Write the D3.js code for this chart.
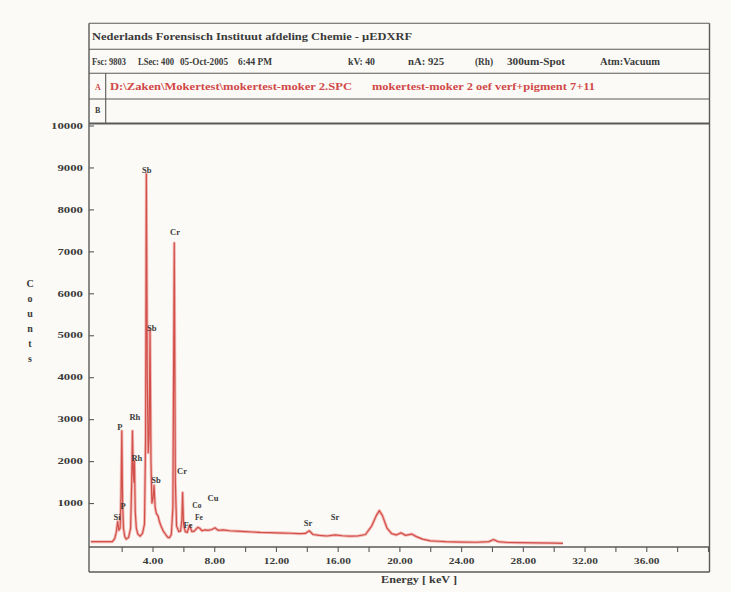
<!DOCTYPE html>
<html>
<head>
<meta charset="utf-8">
<script src="https://cdn.jsdelivr.net/npm/d3@7"></script>
<style>
  html, body { margin: 0; padding: 0; background: #fbfaf6; }
  svg { display: block; }
  text { font-family: "Liberation Serif", "DejaVu Serif", serif; font-weight: bold; fill: #3a3a3a; }
</style>
</head>
<body>
<svg id="chart" width="731" height="592"></svg>
<script>
// ---------------- data ----------------
const titleText = "Nederlands Forensisch Instituut afdeling Chemie - µEDXRF";
const infoFields = ["Fsc: 9803", "LSec: 400", "05-Oct-2005", "6:44 PM", "kV: 40", "nA: 925", "(Rh)", "300um-Spot", "Atm:Vacuum"];
const fileFields = ["D:\\Zaken\\Mokertest\\mokertest-moker 2.SPC", "mokertest-moker 2 oef verf+pigment 7+11"];
const rowKeys = ["A", "B"];

const yTicks = [1000, 2000, 3000, 4000, 5000, 6000, 7000, 8000, 9000, 10000];
const xTicks = [2, 4, 6, 8, 10, 12, 14, 16, 18, 20, 22, 24, 26, 28, 30, 32, 34, 36, 38, 40];
const xLabelTicks = [4, 8, 12, 16, 20, 24, 28, 32, 36];
const yTitle = "Counts";
const xTitle = "Energy [ keV ]";

// spectrum: energy (keV) and counts
const energy = [0.0, 1.40, 1.55, 1.65, 1.74, 1.82, 1.90, 1.96, 2.01, 2.06, 2.12, 2.20, 2.30, 2.45, 2.58, 2.65, 2.70, 2.75, 2.80, 2.83, 2.88, 2.95, 3.05, 3.20, 3.35, 3.48, 3.55, 3.60, 3.66, 3.72, 3.78, 3.84, 3.90, 3.96, 4.03, 4.10, 4.17, 4.25, 4.35, 4.45, 4.55, 4.70, 4.85, 5.00, 5.10, 5.22, 5.32, 5.41, 5.48, 5.56, 5.70, 5.82, 5.90, 5.95, 6.01, 6.12, 6.25, 6.40, 6.55, 6.70, 6.93, 7.06, 7.20, 7.40, 7.60, 7.85, 8.05, 8.25, 8.60, 9.00, 9.50, 10.0, 10.5, 11.0, 11.5, 12.0, 12.5, 13.0, 13.5, 13.9, 14.16, 14.4, 14.8, 15.3, 15.84, 16.3, 16.8, 17.3, 17.8, 18.2, 18.5, 18.7, 18.9, 19.2, 19.5, 19.8, 20.1, 20.4, 20.8, 21.1, 21.5, 22.0, 22.5, 23.0, 24.0, 25.0, 25.8, 26.1, 26.4, 27.0, 28.0, 29.0, 30.0, 30.6];
const counts = [80, 80, 150, 300, 560, 350, 400, 1200, 2720, 1000, 400, 200, 140, 180, 400, 1500, 2720, 1700, 1500, 2000, 800, 400, 260, 210, 280, 500, 2500, 8850, 4000, 2200, 2600, 5150, 2000, 1000, 1100, 1420, 900, 750, 700, 560, 450, 330, 250, 180, 175, 250, 900, 7200, 1500, 450, 320, 330, 600, 1250, 500, 320, 300, 470, 320, 330, 420, 400, 340, 360, 350, 370, 410, 350, 360, 340, 330, 320, 310, 300, 295, 290, 285, 280, 270, 275, 340, 250, 230, 215, 240, 220, 210, 215, 250, 450, 700, 820, 700, 400, 270, 240, 290, 230, 260, 200, 140, 100, 90, 80, 70, 65, 80, 130, 80, 60, 55, 50, 45, 40];

// peak labels: element, energy (keV), counts at label
const peakNames  = ["Sb", "Cr", "Sb", "P", "Rh", "Rh", "Sb", "Cr", "Si", "P", "Fe", "Co", "Fe", "Cu", "Sr", "Sr"];
const peakEnergy = [3.62, 5.46, 3.95, 1.89, 2.86, 2.99, 4.23, 5.91, 1.70, 2.09, 6.30, 6.88, 7.01, 7.92, 14.08, 15.83];
const peakCounts = [8940, 7460, 5170, 2810, 3050, 2070, 1550, 1760, 670, 930, 480, 950, 660, 1120, 520, 670];

// ---------------- drawing ----------------
const svg = d3.select("#chart");
const frameColor = "#5a5a5a";
const left = 89, right = 709.5;

const x = d3.scaleLinear().domain([0, 40]).range([90.8, 708]);
const y = d3.scaleLinear().domain([0, 10000]).range([545, 125.5]);

// header table
const hdrLines = [23.3, 49.3, 73.3, 99, 123.5];
hdrLines.forEach(v => svg.append("line").attr("x1", left).attr("x2", right).attr("y1", v).attr("y2", v)
  .attr("stroke", frameColor).attr("stroke-width", v === 123.5 ? 1.8 : 1.1));
svg.append("line").attr("x1", 105.7).attr("x2", 105.7).attr("y1", 73.3).attr("y2", 123.5).attr("stroke", frameColor).attr("stroke-width", 1.1);

svg.append("text").attr("x", 92).attr("y", 40).attr("font-size", 10.5)
  .attr("textLength", 320).attr("lengthAdjust", "spacingAndGlyphs").text(titleText);

const infoX = [92, 138, 180, 238, 348, 408, 475, 507, 600];
const infoW = [34, 36, 48, 34, 27, 36, 18, 58, 60];
svg.selectAll("text.info").data(infoFields).join("text").attr("class", "info")
  .attr("x", (d, i) => infoX[i]).attr("y", 65).attr("font-size", 10)
  .attr("textLength", (d, i) => infoW[i]).attr("lengthAdjust", "spacingAndGlyphs").text(d => d);

svg.selectAll("text.key").data(rowKeys).join("text").attr("class", "key")
  .attr("x", 95).attr("y", (d, i) => i === 0 ? 90 : 113).attr("font-size", 8)
  .style("fill", (d, i) => i === 0 ? "#d04848" : "#3a3a3a").text(d => d);

const fileX = [110, 372], fileW = [242, 223];
svg.selectAll("text.file").data(fileFields).join("text").attr("class", "file")
  .attr("x", (d, i) => fileX[i]).attr("y", 90).attr("font-size", 9.5)
  .attr("textLength", (d, i) => fileW[i]).attr("lengthAdjust", "spacingAndGlyphs")
  .style("fill", "#d04848").text(d => d);

// plot frame
svg.append("line").attr("x1", left).attr("x2", left).attr("y1", 23.3).attr("y2", 572).attr("stroke", frameColor).attr("stroke-width", 1.4);
svg.append("line").attr("x1", right).attr("x2", right).attr("y1", 23.3).attr("y2", 572).attr("stroke", frameColor).attr("stroke-width", 1.4);
svg.append("line").attr("x1", left).attr("x2", right).attr("y1", 572).attr("y2", 572).attr("stroke", frameColor).attr("stroke-width", 1.4);

// y axis
const yAxis = svg.append("g").attr("transform", `translate(${left},0)`)
  .call(d3.axisLeft(y).tickValues(yTicks).tickSize(-5).tickPadding(6).tickFormat(d3.format("d")));
yAxis.select(".domain").remove();
yAxis.selectAll(".tick line").attr("stroke", frameColor).attr("stroke-width", 1.1);
yAxis.selectAll(".tick text").attr("font-size", 8.5).attr("font-family", null)
  .attr("textLength", d => String(d).length * 6.4).attr("lengthAdjust", "spacingAndGlyphs");

// x axis
svg.append("line").attr("x1", left).attr("x2", right).attr("y1", 547).attr("y2", 547).attr("stroke", frameColor).attr("stroke-width", 1.3);
const xAxis = svg.append("g").attr("transform", "translate(0,547)")
  .call(d3.axisBottom(x).tickValues(xTicks).tickSize(5).tickPadding(6)
    .tickFormat(d => xLabelTicks.includes(d) ? d.toFixed(2) : ""));
xAxis.select(".domain").remove();
xAxis.selectAll(".tick line").attr("stroke", frameColor).attr("stroke-width", 1.1);
xAxis.selectAll(".tick text").attr("font-size", 9).attr("font-family", null)
  .attr("textLength", d => xLabelTicks.includes(d) ? d.toFixed(2).length * 5.1 : 0)
  .attr("lengthAdjust", "spacingAndGlyphs");

// axis titles
svg.append("text").attr("x", 419).attr("y", 583).attr("text-anchor", "middle").attr("font-size", 9.5)
  .attr("textLength", 76).attr("lengthAdjust", "spacingAndGlyphs").text(xTitle);
svg.selectAll("text.ytitle").data(yTitle.split("")).join("text").attr("class", "ytitle")
  .attr("x", 30).attr("y", (d, i) => 287 + i * 15).attr("text-anchor", "middle").attr("font-size", 10).text(d => d);

// spectrum
const pts = energy.map((e, i) => [e, counts[i]]);
const line = d3.line().x(d => x(d[0])).y(d => y(d[1]));
svg.append("path").datum(pts).attr("d", line).attr("fill", "none")
  .attr("stroke", "#f2b8b4").attr("stroke-width", 3).attr("stroke-linejoin", "round");
svg.append("path").datum(pts).attr("d", line).attr("fill", "none")
  .attr("stroke", "#d2504a").attr("stroke-width", 1.2).attr("stroke-linejoin", "round");

// peak labels
svg.selectAll("text.peak").data(peakNames).join("text").attr("class", "peak")
  .attr("x", (d, i) => x(peakEnergy[i])).attr("y", (d, i) => y(peakCounts[i]) + 3)
  .attr("text-anchor", "middle").attr("font-size", (d, i) => (i === 11 || i === 12) ? 7.5 : 8.5).text(d => d);
</script>
</body>
</html>
